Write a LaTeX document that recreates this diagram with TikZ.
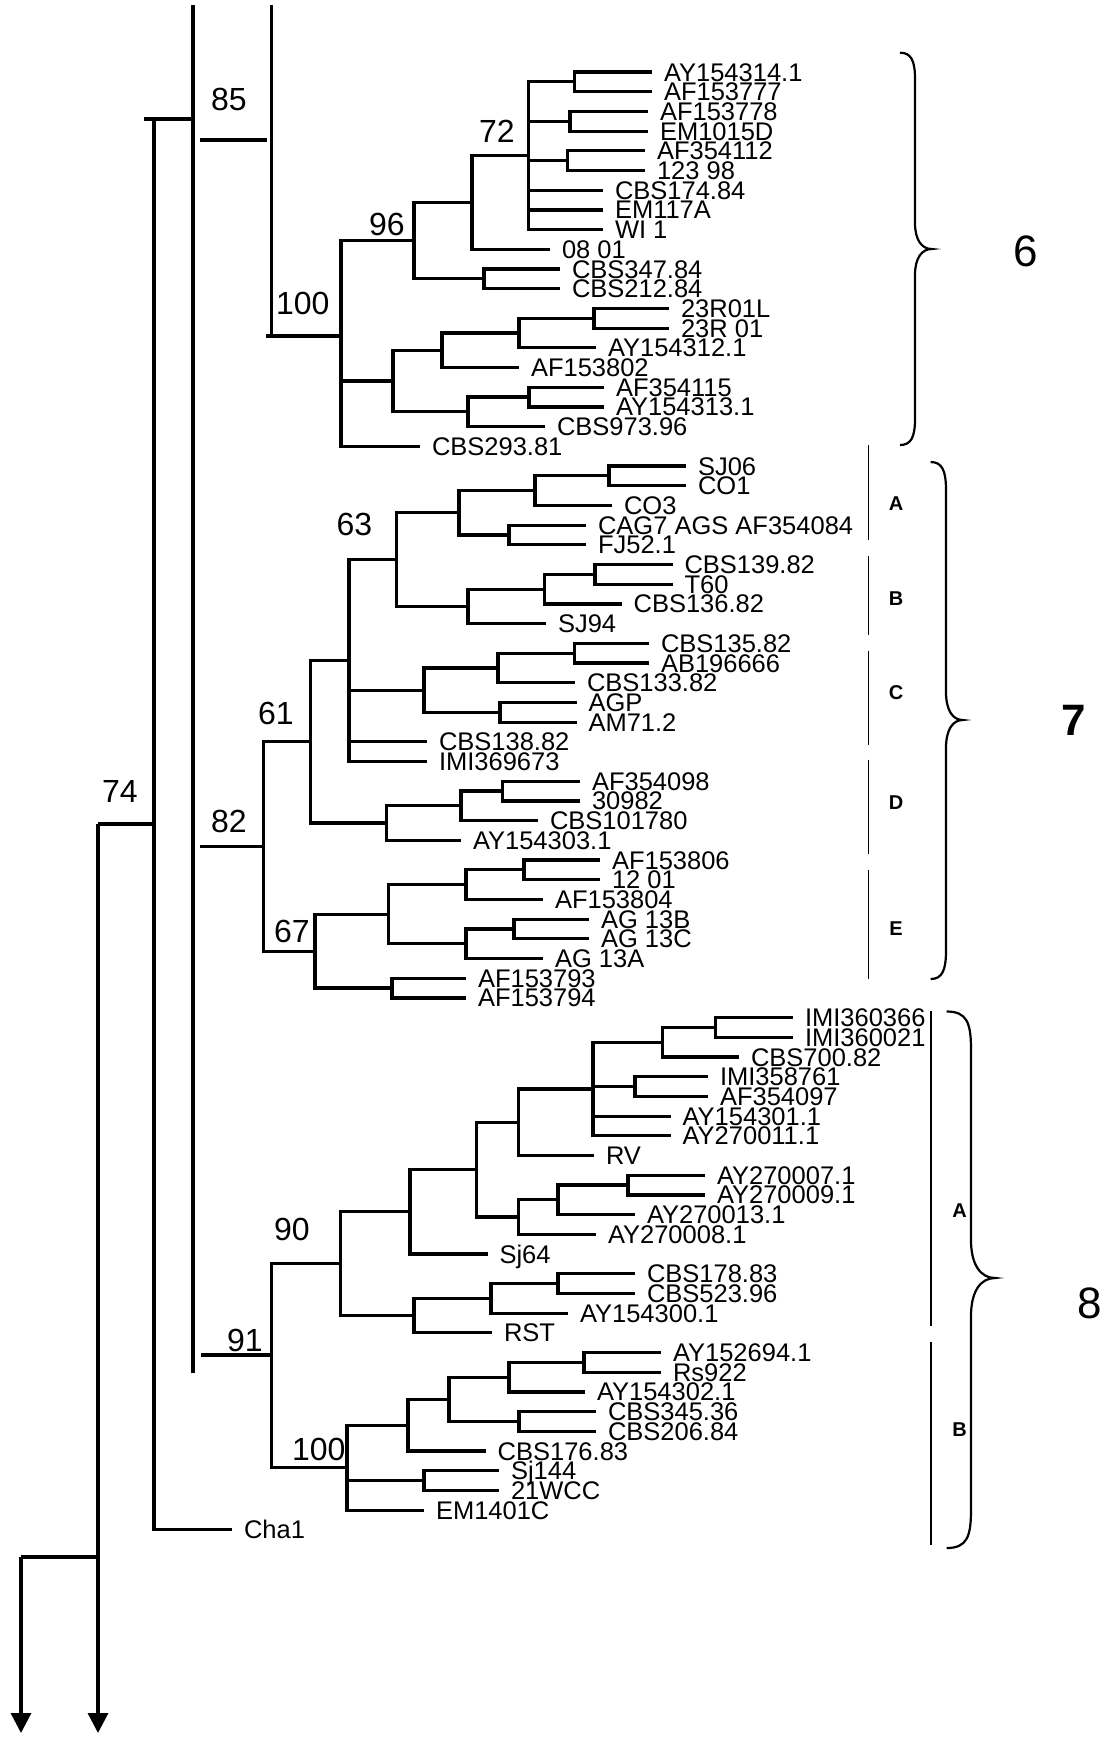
\documentclass[tikz,border=0pt]{standalone}
\usepackage{fontspec}
\setmainfont{Liberation Sans}
\usetikzlibrary{arrows.meta}
\newcommand{\curlybrace}[7]{%
  \draw[brace] (#1,#4) .. controls ({#2-4},#4) and (#2,{#4+0.3*#7}) .. (#2,{#4+#7})
    -- (#2,{#5-#7}) .. controls (#2,{#5-0.35*#7}) and ({#2+0.4*(#3-#2)},#5) .. (#3,#5)
    .. controls ({#2+0.4*(#3-#2)},#5) and (#2,{#5+0.35*#7}) .. (#2,{#5+#7})
    -- (#2,{#6-#7}) .. controls (#2,{#6-0.3*#7}) and ({#2-4},#6) .. (#1,#6);}
\begin{document}
\begin{tikzpicture}[x=0.5pt,y=-0.5pt,
  br/.style={line width=1.6pt},
  tip/.style={anchor=west, inner xsep=6pt, inner ysep=0pt, outer sep=0pt,
    text height=9pt, text depth=0pt, font=\fontsize{12.75}{14}\selectfont},
  bs/.style={anchor=base west, inner sep=0pt, outer sep=0pt, font=\fontsize{16}{18}\selectfont},
  grp/.style={inner sep=0pt, font=\fontsize{22}{24}\selectfont},
  sublab/.style={inner sep=0pt, font=\bfseries\fontsize{10}{12}\selectfont},
  bar/.style={line width=0.8pt},
  brace/.style={line width=1.1pt},
  arr/.style={line width=1.6pt, -{Triangle[width=10pt,length=10pt]}}]
\useasboundingbox (0,0) rectangle (1115,1737);

% ---------- tips ----------
\foreach \n/\x/\t in {
 0/652/AY154314.1, 1/652/AF153777, 2/648/AF153778, 3/648/EM1015D,
 4/645/AF354112, 5/645/123 98, 6/603/CBS174.84, 7/603/EM117A, 8/603/WI 1,
 9/550/08 01, 10/560/CBS347.84, 11/560/CBS212.84, 12/669/23R01L, 13/669/23R 01,
 14/596/AY154312.1, 15/519/AF153802, 16/604/AF354115, 17/604/AY154313.1,
 18/545/CBS973.96, 19/420/CBS293.81,
 20/686/SJ06, 21/686/CO1, 22/612/CO3, 23/586/CAG7 AGS AF354084, 24/586/FJ52.1,
 25/672.5/CBS139.82, 26/672.5/T60, 27/621.6/CBS136.82, 28/546/SJ94,
 29/649/CBS135.82, 30/649/AB196666, 31/575/CBS133.82, 32/576.5/AGP, 33/576.5/AM71.2,
 34/427/CBS138.82, 35/427/IMI369673, 36/580/AF354098, 37/580/30982,
 38/538/CBS101780, 39/461/AY154303.1, 40/600/AF153806, 41/600/12 01,
 42/543/AF153804, 43/589/AG 13B, 44/589/AG 13C, 45/543/AG 13A,
 46/466/AF153793, 47/466/AF153794,
 48/793/IMI360366, 49/793/IMI360021, 50/739/CBS700.82, 51/708/IMI358761,
 52/708/AF354097, 53/670.6/AY154301.1, 54/670.6/AY270011.1, 55/594/RV,
 56/705/AY270007.1, 57/705/AY270009.1, 58/635/AY270013.1, 59/596/AY270008.1,
 60/487.5/Sj64, 61/635/CBS178.83, 62/635/CBS523.96, 63/568/AY154300.1,
 64/492/RST, 65/661/AY152694.1, 66/661/Rs922, 67/585/AY154302.1,
 68/596/CBS345.36, 69/596/CBS206.84, 70/485.7/CBS176.83, 71/499/Sj144,
 72/499/21WCC, 73/424/EM1401C, 74/232/Cha1}
  \node[tip] (t\n) at (\x,{72+19.7*\n}) {\t};

% ---------- internal nodes ----------
\foreach \n/\x/\y in {
 p1/574.6/81.85, p2/570/121.25, p3/567.8/160.65, n72/528.6/155.7, n72p/472/202.5,
 n347/484/278.85, n96/414/240.7, n594/594/318.25, n519/519/333, n442/442/350.25,
 n529/529/397.05, n468/468/411.8, n6low/393/381, c6/341/336,
 a1/609/475.85, a2/535/490.6, a3/509/534.95, a4/459/512.8, b1/595/574.35,
 b2/544.6/589.1, b3/468/606.35, n63/396.4/559.6, c1/574.5/653.15, c2/498/667.9,
 c3/500/712.25, c4/424/690.1, n349/349/660.55, d1/502.5/791.05, d2/461/805.8,
 d3/386.4/823.05, n61/310.7/741.8, e1/524/869.85, e2/466/884.6, e3/514/928.95,
 e4/466/943.7, e5/388.6/914.15, e6/392/988.05, n67/315/951.1, n82/263.6/846.45,
 f1/715.7/1027.45, f2/662.7/1042.2, f3/635/1086.55, f4/593/1089, f5/518.6/1122.25,
 g1/628/1185.05, g2/558/1199.8, g3/518.6/1217.05, g4/476.8/1169.65, g5/410/1211.8,
 h1/558/1283.55, h2/491/1298.3, h3/414/1315.55, n90/340.4/1263.7,
 i1/584/1362.35, i2/509/1377.1, i3/519/1421.45, i4/449/1399.3, i5/408/1425.15,
 i6/424/1480.55, n100b/347/1467.6, n91/271.4/1355,
 c6in/266/336, n82in/200/846.45, n91in/201/1355,
 s85top/193/5, s85bot/193/1373, s100top/271.7/5, s100bot/271.7/336,
 h85a/200/140, h85b/267/140, h74a/144/119, h74b/193/119, n74/154/119,
 root/98/824, rootend/98/1733, lft/21/1557, lftend/21/1733}
  \coordinate (\n) at (\x,\y);

% ---------- branches ----------
\foreach \p/\c in {
 p1/t0.west, p1/t1.west, p2/t2.west, p2/t3.west, p3/t4.west, p3/t5.west,
 n72/p1, n72/p2, n72/p3, n72/t6.west, n72/t7.west, n72/t8.west,
 n72p/n72, n72p/t9.west, n347/t10.west, n347/t11.west, n96/n72p, n96/n347,
 n594/t12.west, n594/t13.west, n519/n594, n519/t14.west, n442/n519, n442/t15.west,
 n529/t16.west, n529/t17.west, n468/n529, n468/t18.west, n6low/n442, n6low/n468,
 c6/n96, c6/n6low, c6/t19.west,
 a1/t20.west, a1/t21.west, a2/a1, a2/t22.west, a3/t23.west, a3/t24.west, a4/a2, a4/a3,
 b1/t25.west, b1/t26.west, b2/b1, b2/t27.west, b3/b2, b3/t28.west, n63/a4, n63/b3,
 c1/t29.west, c1/t30.west, c2/c1, c2/t31.west, c3/t32.west, c3/t33.west, c4/c2, c4/c3,
 n349/n63, n349/c4, n349/t34.west, n349/t35.west,
 d1/t36.west, d1/t37.west, d2/d1, d2/t38.west, d3/d2, d3/t39.west, n61/n349, n61/d3,
 e1/t40.west, e1/t41.west, e2/e1, e2/t42.west, e3/t43.west, e3/t44.west, e4/e3, e4/t45.west,
 e5/e2, e5/e4, e6/t46.west, e6/t47.west, n67/e5, n67/e6, n82/n61, n82/n67,
 f1/t48.west, f1/t49.west, f2/f1, f2/t50.west, f3/t51.west, f3/t52.west,
 f4/f2, f4/f3, f4/t53.west, f4/t54.west, f5/f4, f5/t55.west,
 g1/t56.west, g1/t57.west, g2/g1, g2/t58.west, g3/g2, g3/t59.west, g4/f5, g4/g3,
 g5/g4, g5/t60.west, h1/t61.west, h1/t62.west, h2/h1, h2/t63.west, h3/h2, h3/t64.west,
 n90/g5, n90/h3, i1/t65.west, i1/t66.west, i2/i1, i2/t67.west, i3/t68.west, i3/t69.west,
 i4/i2, i4/i3, i5/i4, i5/t70.west, i6/t71.west, i6/t72.west,
 n100b/i5, n100b/i6, n100b/t73.west, n91/n90, n91/n100b,
 n74/t74.west}
  \draw[br] (\p) |- (\c);

% stems and root
\draw[br] (c6in) -- (c6);
\draw[br] (n82in) -- (n82);
\draw[br] (n91in) -- (n91);
\draw[br] (s85top) -- (s85bot);
\draw[br] (s100top) -- (s100bot);
\draw[br] (h85a) -- (h85b);
\draw[br] (h74a) -- (h74b);
\draw[br] (root) -- (root -| n74);
\draw[br] (lft) -- (lft -| root);
\draw[arr] (root) -- (rootend);
\draw[arr] (lft) -- (lftend);

% ---------- bootstrap values ----------
\node[bs] (b85) at (211,110) {85};
\node[bs] (b100a) at (276,314) {100};
\node[bs] (b96) at (369,235) {96};
\node[bs] (b72) at (479,142) {72};
\node[bs] (b63) at (336.5,535) {63};
\node[bs] (b61) at (258,724) {61};
\node[bs] (b82) at (211,832) {82};
\node[bs] (b67) at (274,942) {67};
\node[bs] (b74) at (102,802) {74};
\node[bs] (b90) at (274,1240) {90};
\node[bs] (b91) at (227,1351) {91};
\node[bs] (b100b) at (292,1460) {100};

% ---------- group marks ----------
\foreach \ya/\yb in {445/540, 556/634.6, 650.7/745, 759.6/854, 870/979}
  \draw[bar] (868.6,\ya) -- (868.6,\yb);
\draw[bar] (931,1011) -- (931,1326);
\draw[bar] (931,1342) -- (931,1545);

\node[sublab] (s7A) at (896,504) {A};
\node[sublab] (s7B) at (896,599) {B};
\node[sublab] (s7C) at (896,693) {C};
\node[sublab] (s7D) at (896,802.5) {D};
\node[sublab] (s7E) at (896,929) {E};
\node[sublab] (s8A) at (959.5,1211) {A};
\node[sublab] (s8B) at (959.5,1430) {B};

\curlybrace{900}{915}{931.7}{52.7}{249}{445}{26}
\curlybrace{930.6}{946}{962.7}{462}{720}{979}{28}
\curlybrace{946.7}{971}{995}{1011.5}{1278}{1548}{38}

\node[grp] (g6) at (1025.5,251) {6};
\node[grp] (g7) at (1073.5,720) {\bfseries 7};
\node[grp] (g8) at (1090,1303) {8};
\end{tikzpicture}
\end{document}
